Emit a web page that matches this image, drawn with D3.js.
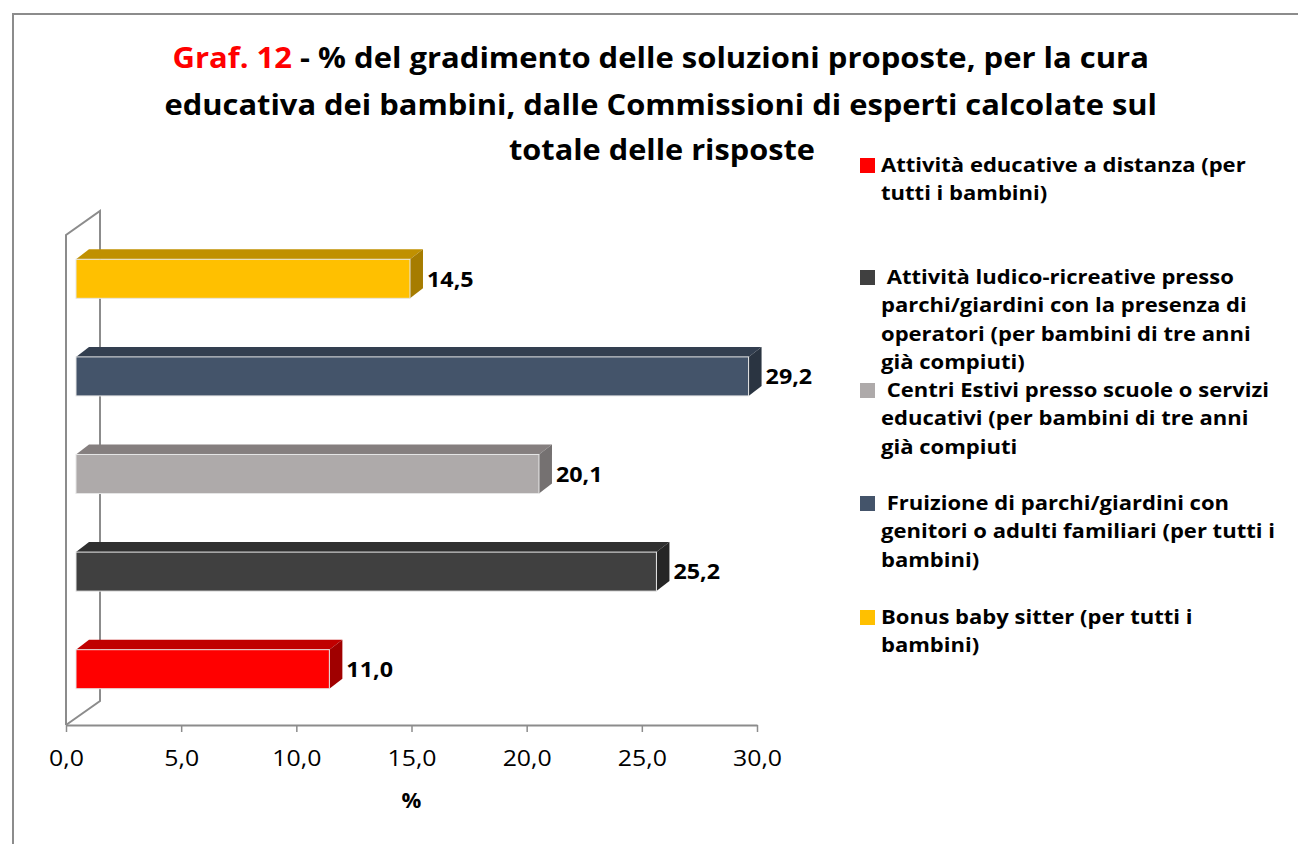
<!DOCTYPE html>
<html><head><meta charset="utf-8">
<script src="https://cdn.jsdelivr.net/npm/d3@7"></script>
<style>body{margin:0;background:#fff;} svg{display:block;font-family:"Open Sans",sans-serif;}</style>
</head><body>
<svg id="c" width="1298" height="844"></svg>
<script>
// ---- data ----
const categories = [
  "Attività educative a distanza (per tutti i bambini)",
  "Attività ludico-ricreative presso parchi/giardini con la presenza di operatori (per bambini di tre anni già compiuti)",
  "Centri Estivi presso scuole o servizi educativi (per bambini di tre anni già compiuti",
  "Fruizione di parchi/giardini con genitori o adulti familiari (per tutti i bambini)",
  "Bonus baby sitter (per tutti i bambini)"
];
const values = [11.0, 25.2, 20.1, 29.2, 14.5];
const legendLines = [
  ["Attività educative a distanza (per", "tutti i bambini)"],
  [" Attività ludico-ricreative presso", "parchi/giardini con la presenza di", "operatori (per bambini di tre anni", "già compiuti)"],
  [" Centri Estivi presso scuole o servizi", "educativi (per bambini di tre anni", "già compiuti"],
  [" Fruizione di parchi/giardini con", "genitori o adulti familiari (per tutti i", "bambini)"],
  ["Bonus baby sitter (per tutti i", "bambini)"]
];
const xTicks = [0, 5, 10, 15, 20, 25, 30];
const titleLines = ["- % del gradimento delle soluzioni proposte, per la cura", "educativa dei bambini, dalle Commissioni di esperti calcolate sul", "totale delle risposte"];
const titlePrefix = "Graf. 12";
const axisTitle = "%";

// ---- styles ----
const frontColors = ["#FF0000", "#404040", "#AEAAAA", "#44546A", "#FFC000"];
const topColors   = ["#C00000", "#303030", "#857F7F", "#333F50", "#C09000"];
const sideColors  = ["#A00000", "#262626", "#757171", "#2A3441", "#A67C00"];

const svg = d3.select("#c");
const fmt = v => d3.format(".1f")(v).replace(".", ",");

// border
svg.append("path").attr("d", "M13,844 V14 H1298").attr("fill", "none").attr("stroke", "#8c8c8c").attr("stroke-width", 2);

// scales
const x = d3.scaleLinear().domain([0, 30]).range([66, 757]);
const y = d3.scaleBand().domain(categories).range([718, 230]).paddingInner(0.6).paddingOuter(0.3);

const wallDx = 34, wallDy = -24;
const barOff = 10, bdx = 13, bdy = -10;
const floorY = 725, wallTop = 235;

// walls
const wall = svg.append("g").attr("fill", "none").attr("stroke", "#8c8c8c").attr("stroke-width", 2);
wall.append("path").attr("d", `M${x(0)},${floorY} V${wallTop} l${wallDx},${wallDy} V${floorY + wallDy} L${x(0)},${floorY}`);

// x axis
const axisG = svg.append("g").attr("transform", `translate(0,${floorY})`)
  .call(d3.axisBottom(x).tickValues(xTicks).tickFormat(fmt).tickSize(7).tickSizeOuter(0));
axisG.select(".domain").attr("stroke", "#8c8c8c").attr("stroke-width", 2);
axisG.selectAll(".tick line").attr("stroke", "#8c8c8c").attr("stroke-width", 1.5);
axisG.selectAll(".tick text").attr("font-size", 22).attr("font-family", "Open Sans").attr("fill", "#000")
  .attr("y", 35).attr("dy", null).attr("dominant-baseline", "middle").attr("transform", "scale(1.13,1)");

svg.append("text").attr("x", x(15)).attr("y", 802).attr("text-anchor", "middle").attr("dominant-baseline", "middle")
  .attr("font-weight", "bold").attr("font-size", 22).text(axisTitle);

// bars
const bars = svg.append("g").selectAll("g").data(categories).join("g");
bars.each(function (c, i) {
  const g = d3.select(this);
  const x0 = x(0) + barOff, x1 = x(values[i]) + barOff, y0 = y(c), h = y.bandwidth();
  g.append("path").attr("fill", topColors[i])
    .attr("d", `M${x0},${y0} l${bdx},${bdy} H${x1 + bdx} L${x1},${y0} Z`);
  g.append("path").attr("fill", sideColors[i])
    .attr("d", `M${x1},${y0} l${bdx},${bdy} v${h} l${-bdx},${-bdy} Z`);
  g.append("rect").attr("x", x0).attr("y", y0).attr("width", x1 - x0).attr("height", h).attr("fill", frontColors[i])
    .attr("stroke", "#e6e6e6").attr("stroke-width", 1);
  g.append("text").attr("x", 0).attr("y", y0 + h / 2 + 2).attr("dominant-baseline", "middle")
    .attr("transform", `translate(${x1 + bdx + 4},0) scale(1.06,1)`)
    .attr("font-weight", "bold").attr("font-size", 22).attr("fill", "#000").text(fmt(values[i]));
});

// title
function fitLine(sel, cx, width) {
  const bb = sel.node().getBBox();
  const s = width / bb.width;
  sel.attr("transform", `translate(${cx},0) scale(${s},1) translate(${-(bb.x + bb.width / 2)},0)`);
}
const t1 = svg.append("text").attr("y", 60).attr("font-weight", "bold").attr("font-size", 29).attr("dominant-baseline", "middle");
t1.append("tspan").attr("fill", "#FF0000").text(titlePrefix + " ");
t1.append("tspan").attr("fill", "#000").text(titleLines[0]);
fitLine(t1, 661, 977);
const t2 = svg.append("text").attr("y", 107).attr("font-weight", "bold").attr("font-size", 29).attr("dominant-baseline", "middle").text(titleLines[1]);
fitLine(t2, 661, 993);
const t3 = svg.append("text").attr("y", 152).attr("font-weight", "bold").attr("font-size", 29).attr("dominant-baseline", "middle").text(titleLines[2]);
fitLine(t3, 662, 306);

// legend
const legendY = [167, 279, 392, 505, 619];
const lg = svg.append("g");
categories.forEach((c, i) => {
  lg.append("rect").attr("x", 860).attr("y", legendY[i] - 9).attr("width", 15).attr("height", 15).attr("fill", frontColors[i]);
  legendLines[i].forEach((ln, j) => {
    lg.append("text").attr("x", 0).attr("y", legendY[i] + j * 28.2).attr("dominant-baseline", "middle")
      .attr("transform", "translate(881,0) scale(1.13,1)")
      .attr("font-weight", "bold").attr("font-size", 19.5).attr("fill", "#000")
      .style("white-space", "pre").text(ln);
  });
});
</script>
</body></html>
